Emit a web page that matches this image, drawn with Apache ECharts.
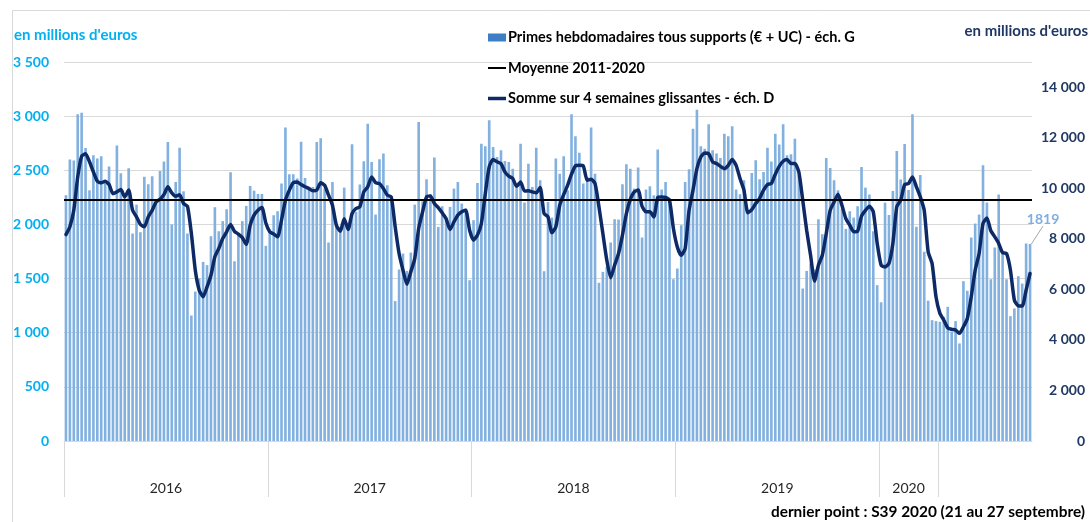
<!DOCTYPE html>
<html>
<head>
    <meta charset="UTF-8">
    <title>Primes hebdomadaires 2016-2020</title>
    <script src="https://cdn.jsdelivr.net/npm/echarts@6/dist/echarts.min.js"></script>
    <style>
        html, body { margin: 0; padding: 0; background: #fff; }
        #chart { width: 1090px; height: 522px; }
    </style>
</head>
<body>
<div id="chart"></div>
<script>
    // primes hebdomadaires (M€), échelle gauche
    var primes2016 = [2270, 2600, 2590, 3017, 3032, 2706, 2315, 2638, 2608, 2629, 2408, 2534, 2220, 2730, 2472, 2240, 2518, 1916, 2183, 1928,
        2441, 2371, 2444, 2207, 2494, 2580, 2761, 2000, 2392, 2709, 2306, 1916, 1159, 1380, 1500, 1654, 1624, 1891, 2159, 1937,
        2030, 2140, 2482, 1660, 1903, 2030, 2171, 2355, 2312, 2282, 2282, 1802];
    var primes2017 = [1950, 2085, 2122, 2377, 2894, 2463, 2463, 2423, 2764, 2429, 2331, 2346, 2761, 2795, 2331, 1833, 2392, 1977, 1937, 2340,
        1962, 2740, 2116, 2368, 2583, 2930, 2577, 2091, 2601, 2654, 2362, 2254, 1292, 1584, 1731, 1571, 1740, 2183, 2946, 2214,
        2417, 2276, 2617, 1977, 2168, 2069, 2162, 2331, 2392, 2193, 2146, 1485];
    var primes2018 = [2039, 2383, 2746, 2722, 2961, 2715, 2623, 2684, 2586, 2577, 2515, 2377, 2746, 2202, 2561, 2346, 2709, 2408, 1568, 2208,
        2063, 2608, 2469, 2629, 2315, 3017, 2814, 2663, 2377, 2438, 2894, 2469, 1461, 1562, 1608, 1833, 2048, 2045, 2371, 2555,
        2515, 2331, 2525, 1879, 2322, 2352, 2269, 2691, 2322, 2392, 2239, 1494];
    var primes2019 = [1593, 1993, 2392, 2509, 2884, 3060, 2721, 2700, 2924, 2684, 2654, 2614, 2838, 2814, 2906, 2322, 2279, 2408, 2131, 2475,
        2592, 2417, 2485, 2709, 2580, 2838, 2737, 2924, 2638, 2648, 2792, 2454, 1408, 1571, 1639, 1584, 2048, 1910, 2614, 2522,
        2408, 2315, 2146, 1959, 2122, 2063, 2168, 2531, 2340, 2276, 1937, 1439];
    var primes2020 = [1281, 2201, 2087, 2309, 2678, 2416, 2742, 2318, 3017, 1979, 2457, 1748, 1296, 1116, 1107, 1101, 1147, 1239, 1009, 1107,
        901, 1476, 1387, 1879, 2008, 2091, 2546, 2202, 1494, 1787, 2276, 1731, 1494, 1153, 1224, 1522, 1454, 1824, 1819];

    // somme sur 4 semaines glissantes (M€), échelle droite
    var somme2016 = [8170, 8480, 9130, 10450, 11270, 11370, 11050, 10650, 10280, 10220, 10280, 10150, 9790, 9860, 9950, 9660, 9930, 9130, 8870, 8570,
        8480, 8870, 9130, 9460, 9570, 9750, 10060, 9820, 9690, 9750, 9400, 9290, 8210, 6760, 5970, 5710, 6100, 6560, 7290, 7620,
        8010, 8280, 8570, 8300, 8190, 8050, 7780, 8540, 8940, 9130, 9240, 8630];
    var somme2017 = [8280, 8190, 8080, 8740, 9530, 9930, 10220, 10250, 10150, 10060, 9990, 9900, 9930, 10220, 10120, 9730, 9330, 8540, 8300, 8800,
        8370, 9000, 9200, 9270, 9860, 10060, 10450, 10220, 10190, 9990, 9730, 9660, 8480, 7420, 6760, 6200, 6700, 7220, 8410, 9070,
        9660, 9700, 9400, 9240, 9030, 8800, 8370, 8670, 8940, 9070, 9130, 8340];
    var somme2018 = [7950, 8150, 8610, 9790, 10850, 11140, 11050, 10980, 10650, 10480, 10390, 10080, 10250, 9890, 9900, 9860, 9820, 10030, 9000, 8870,
        8240, 8480, 9330, 9750, 10120, 10560, 10890, 10910, 10890, 10320, 10360, 10190, 9270, 8210, 7160, 6460, 6960, 7420, 8150, 9000,
        9560, 9860, 9930, 9290, 9070, 9070, 8870, 9640, 9660, 9640, 9530, 8410];
    var somme2019 = [7680, 7350, 7620, 9130, 9930, 10780, 11240, 11400, 11370, 11050, 10980, 10870, 10780, 10910, 11140, 10910, 10390, 9930, 9030, 9160,
        9400, 9600, 9930, 10150, 10190, 10560, 10870, 11070, 11140, 10980, 10980, 10650, 9530, 8340, 7350, 6330, 6960, 7350, 8210, 9130,
        9460, 9770, 9330, 8800, 8540, 8280, 8300, 8900, 9130, 9290, 9070, 7820];
    var somme2020 = [6960, 6890, 7030, 7820, 9270, 9530, 10150, 10190, 10450, 10060, 9660, 9130, 7490, 7030, 5710, 5050, 4780, 4480, 4420, 4390,
        4260, 4520, 4850, 5710, 6760, 7420, 8610, 8830, 8320, 8080, 7820, 7450, 7420, 6760, 5580, 5350, 5340, 5970, 6630];

    var moyenne = 2225; // moyenne 2011-2020, échelle gauche
    var years = ['2016', '2017', '2018', '2019', '2020'];
    var leftTicks = [0, 500, 1000, 1500, 2000, 2500, 3000, 3500];
    var rightTicks = [0, 2000, 4000, 6000, 8000, 10000, 12000, 14000];

    var primesByYear = [primes2016, primes2017, primes2018, primes2019, primes2020];
    var sommeByYear = [somme2016, somme2017, somme2018, somme2019, somme2020];

    // catégories : une par semaine
    var categories = [];
    var primes = [];
    var somme = [];
    var yearStart = [];
    primesByYear.forEach(function (arr, y) {
        yearStart.push(categories.length);
        arr.forEach(function (v, w) {
            categories.push('S' + (w + 1) + ' ' + years[y]);
            primes.push(v);
            somme.push(sommeByYear[y][w]);
        });
    });
    var n = categories.length;

    // séparateurs de l'axe et position des libellés d'années
    var sepValues = yearStart.map(function (s) { return s - 0.5; });
    sepValues.push(yearStart[4] + 15 - 0.5);
    var labelValues = [];
    for (var i = 0; i < 5; i++) {
        var end = i < 4 ? yearStart[i + 1] : yearStart[4] + 15;
        labelValues.push((yearStart[i] - 0.5 + end - 0.5) / 2);
    }

    function fmt(v) {
        return String(v).replace(/\B(?=(\d{3})+(?!\d))/g, ' ');
    }

    // seule la dernière barre porte une étiquette
    var barData = primes.map(function (v, i) {
        if (i === n - 1) {
            return {
                value: v,
                label: {
                    show: true, position: 'top', distance: 4,
                    color: '#7FAEDF', fontSize: 14, fontWeight: 'bold', fontFamily: 'Lato'
                }
            };
        }
        return v;
    });

    // icônes de légende en forme de trait (boîte 18 x 8)
    var thinLine = 'path://M0 0h18v0.01h-18z M0 3h18v2h-18z M0 7.99h18v0.01h-18z';
    var thickLine = 'path://M0 0h18v0.01h-18z M0 2.3h18v3.4h-18z M0 7.99h18v0.01h-18z';

    var chart = echarts.init(document.getElementById('chart'));
    chart.setOption({
        animation: false,
        textStyle: { fontFamily: 'Lato' },
        grid: { left: 64, right: 58, top: 62, bottom: 81 },
        legend: {
            orient: 'vertical',
            left: 488,
            top: 30,
            padding: 0,
            itemWidth: 18,
            itemHeight: 8,
            itemGap: 15.5,
            selectedMode: false,
            textStyle: { color: '#000', fontSize: 14.5, fontWeight: 'bold', fontFamily: 'Lato', padding: [0, 0, 0, -3] },
            data: [
                { name: 'Primes hebdomadaires tous supports (€ + UC) - éch. G', icon: 'rect', itemStyle: { color: '#3D7EC4' } },
                { name: 'Moyenne 2011-2020', icon: thinLine, itemStyle: { color: '#000' } },
                { name: 'Somme sur 4 semaines glissantes - éch. D', icon: thickLine, itemStyle: { color: '#0D2A66' } }
            ]
        },
        xAxis: [
            {
                type: 'category',
                data: categories,
                axisLine: { show: true, lineStyle: { color: '#D9D9D9' } },
                axisTick: { show: false },
                axisLabel: { show: false }
            },
            {
                type: 'value',
                position: 'bottom',
                min: -0.5,
                max: n - 0.5,
                axisLine: { show: false },
                splitLine: { show: false },
                axisTick: { show: true, customValues: sepValues, length: 56, lineStyle: { color: '#D9D9D9' } },
                axisLabel: {
                    customValues: labelValues,
                    margin: 40,
                    color: '#262626',
                    fontSize: 14,
                    fontFamily: 'Lato',
                    formatter: function (v) {
                        var k = 0;
                        for (var i = 0; i < labelValues.length; i++) {
                            if (Math.abs(labelValues[i] - v) < 0.01) k = i;
                        }
                        return years[k];
                    }
                }
            }
        ],
        yAxis: [
            {
                type: 'value',
                min: leftTicks[0],
                max: leftTicks[leftTicks.length - 1],
                interval: 500,
                axisLine: { show: false },
                axisTick: { show: false },
                splitLine: { lineStyle: { color: '#D9D9D9' } },
                axisLabel: {
                    margin: 15, color: '#00B0F0', fontSize: 14, fontWeight: 'bold', fontFamily: 'Lato',
                    formatter: fmt
                }
            },
            {
                type: 'value',
                min: 0,
                max: 15000,
                interval: 2000,
                position: 'right',
                axisLine: { show: false },
                axisTick: { show: false },
                splitLine: { show: false },
                axisLabel: {
                    margin: 53, align: 'right', showMaxLabel: false,
                    color: '#1F3864', fontSize: 14, fontWeight: 'bold', fontFamily: 'Lato',
                    formatter: function (v) { return rightTicks.indexOf(v) >= 0 ? fmt(v) : ''; }
                }
            }
        ],
        series: [
            {
                name: 'Primes hebdomadaires tous supports (€ + UC) - éch. G',
                type: 'bar',
                yAxisIndex: 0,
                data: barData,
                barCategoryGap: '33%',
                itemStyle: { color: '#82B1E0' },
                labelLayout: { dx: 13, dy: -14 },
                labelLine: { show: true, lineStyle: { color: '#A6A6A6', width: 1 } },
                z: 2
            },
            {
                name: 'Moyenne 2011-2020',
                type: 'line',
                yAxisIndex: 0,
                data: [],
                symbol: 'none',
                lineStyle: { color: '#000', width: 2 },
                itemStyle: { color: '#000' },
                markLine: {
                    silent: true,
                    symbol: 'none',
                    label: { show: false },
                    lineStyle: { color: '#000', width: 2, type: 'solid' },
                    data: [{ yAxis: moyenne }]
                },
                z: 3
            },
            {
                name: 'Somme sur 4 semaines glissantes - éch. D',
                type: 'line',
                yAxisIndex: 1,
                data: somme,
                symbol: 'none',
                smooth: 0.2,
                lineStyle: { color: '#0D2A66', width: 3.5, cap: 'round', join: 'round' },
                itemStyle: { color: '#0D2A66' },
                z: 4
            }
        ],
        graphic: [
            {
                type: 'rect',
                shape: { x: 12.5, y: 10.5, width: 1200, height: 600 },
                style: { fill: 'none', stroke: '#D9D9D9', lineWidth: 1 },
                silent: true
            },
            {
                type: 'text', left: 14, top: 28,
                style: { text: "en millions d'euros", fill: '#00B0F0', font: 'bold 15px Lato' }
            },
            {
                type: 'text', right: 2, top: 24,
                style: { text: "en millions d'euros", fill: '#1F3864', font: 'bold 15px Lato' }
            },
            {
                type: 'text', right: 5, bottom: 2,
                style: { text: 'dernier point : S39 2020 (21 au 27 septembre)', fill: '#000', font: 'bold 15.4px Lato' }
            }
        ]
    });
</script>
</body>
</html>
